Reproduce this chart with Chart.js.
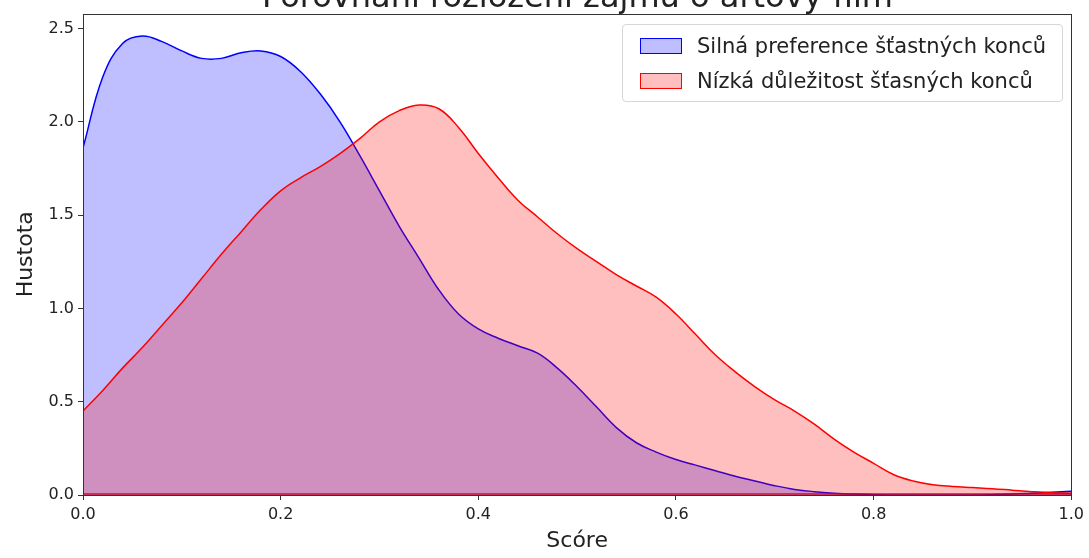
<!DOCTYPE html>
<html lang="cs">
<head>
  <meta charset="UTF-8" />
  <title>Porovnání rozložení zájmu o artový film</title>
  <script src="https://cdn.jsdelivr.net/npm/chart.js@4.4.0/dist/chart.umd.min.js"></script>
  <style>
    html, body {
      margin: 0;
      padding: 0;
      background: #ffffff;
      overflow: hidden;
    }
    #wrap {
      position: relative;
      width: 1089px;
      height: 558px;
      overflow: hidden;
      font-family: "DejaVu Sans", sans-serif;
      color: #222;
    }
    #chartTitle {
      position: absolute;
      left: 83px;
      width: 989px;
      top: -22px;
      text-align: center;
      font-size: 32px;
      line-height: 37px;
      white-space: nowrap;
    }
    #legend {
      position: absolute;
      left: 622px;
      top: 24px;
      width: 441px;
      height: 78px;
      box-sizing: border-box;
      border: 1px solid #d6d6d6;
      border-radius: 4px;
      background: rgba(255, 255, 255, 0.8);
      padding: 3px 0 0 17px;
    }
    .legend-item {
      display: flex;
      align-items: center;
      height: 35px;
      font-size: 21px;
      white-space: nowrap;
    }
    .legend-swatch {
      width: 40px;
      height: 14px;
      margin-right: 15px;
      border-width: 1.5px;
      border-style: solid;
    }
  </style>
</head>
<body>
  <div id="wrap">
    <canvas id="kdeChart" width="1089" height="558"></canvas>
    <div id="chartTitle">Porovnání rozložení zájmu o artový film</div>
    <div id="legend"></div>
  </div>

  <script>
    // ------------
    // DATA
    // ------------
    const scores = [
      0.00, 0.02, 0.04, 0.06, 0.08, 0.10, 0.12, 0.14, 0.16, 0.18,
      0.20, 0.22, 0.24, 0.26, 0.28, 0.30, 0.32, 0.34, 0.36, 0.38,
      0.40, 0.42, 0.44, 0.46, 0.48, 0.50, 0.52, 0.54, 0.56, 0.58,
      0.60, 0.62, 0.64, 0.66, 0.68, 0.70, 0.72, 0.74, 0.76, 0.78,
      0.80, 0.82, 0.84, 0.86, 0.88, 0.90, 0.92, 0.94, 0.96, 0.98,
      1.00
    ];

    // Silná preference šťastných konců
    const strongDensity = [
      1.86, 2.24, 2.42, 2.46, 2.43, 2.38, 2.34, 2.34, 2.37, 2.38,
      2.35, 2.27, 2.15, 2.00, 1.82, 1.63, 1.44, 1.27, 1.10, 0.97,
      0.89, 0.84, 0.80, 0.76, 0.68, 0.58, 0.47, 0.36, 0.28, 0.23,
      0.19, 0.16, 0.13, 0.10, 0.075, 0.05, 0.03, 0.018, 0.01, 0.005,
      0.002, 0.0, 0.0, 0.0, 0.0, 0.0, 0.002, 0.005, 0.01, 0.015,
      0.02
    ];

    // Nízká důležitost šťasných konců
    const lowDensity = [
      0.45, 0.56, 0.68, 0.79, 0.91, 1.03, 1.16, 1.29, 1.41, 1.53,
      1.63, 1.70, 1.76, 1.83, 1.91, 2.00, 2.06, 2.09, 2.07, 1.97,
      1.83, 1.70, 1.58, 1.49, 1.40, 1.32, 1.25, 1.18, 1.12, 1.06,
      0.97, 0.86, 0.75, 0.66, 0.58, 0.51, 0.45, 0.38, 0.30, 0.23,
      0.17, 0.11, 0.075, 0.055, 0.046, 0.040, 0.034, 0.026, 0.018, 0.012,
      0.01
    ];

    const seriesLabels = [
      "Silná preference šťastných konců",
      "Nízká důležitost šťasných konců"
    ];
    const xTicks = [0.0, 0.2, 0.4, 0.6, 0.8, 1.0];
    const yTicks = [0.0, 0.5, 1.0, 1.5, 2.0, 2.5];

    const FONT = "'DejaVu Sans', sans-serif";
    const TEXT = "#222222";

    // -------------------------------
    // PLUGINS
    // -------------------------------
    // matplotlib-like frame around the plot + baseline of fill edges
    const framePlugin = {
      id: "frame",
      afterDatasetsDraw(chart) {
        const { ctx, chartArea, scales } = chart;
        const y0 = scales.y.getPixelForValue(0);
        ctx.save();
        ctx.lineWidth = 1.5;
        ctx.strokeStyle = "rgba(200,0,30,0.9)";
        ctx.beginPath();
        ctx.moveTo(chartArea.left, y0 - 1);
        ctx.lineTo(chartArea.right, y0 - 1);
        ctx.stroke();
        ctx.lineWidth = 1;
        ctx.strokeStyle = "#333333";
        ctx.strokeRect(
          Math.round(chartArea.left) + 0.5,
          Math.round(chartArea.top) + 0.5,
          Math.round(chartArea.right - chartArea.left),
          Math.round(chartArea.bottom - chartArea.top)
        );
        ctx.restore();
      },
    };

    // -------------------------------
    // CHART
    // -------------------------------
    function toPoints(values) {
      return scores.map((s, i) => ({ x: s, y: values[i] }));
    }

    const ctx = document.getElementById("kdeChart").getContext("2d");
    const chart = new Chart(ctx, {
      type: "line",
      data: {
        datasets: [
          {
            label: seriesLabels[0],
            data: toPoints(strongDensity),
            borderColor: "rgba(0, 0, 255, 1)",
            backgroundColor: "rgba(0, 0, 255, 0.25)",
            borderWidth: 1.5,
            fill: "origin",
            pointRadius: 0,
            tension: 0.4,
            order: 1,
          },
          {
            label: seriesLabels[1],
            data: toPoints(lowDensity),
            borderColor: "rgba(255, 0, 0, 1)",
            backgroundColor: "rgba(255, 0, 0, 0.25)",
            borderWidth: 1.5,
            fill: "origin",
            pointRadius: 0,
            tension: 0.4,
            order: 0,
          },
        ],
      },
      options: {
        responsive: false,
        animation: false,
        layout: {
          padding: { top: 13, right: 17, left: 0, bottom: 0 },
        },
        plugins: {
          legend: { display: false },
          title: { display: false },
          tooltip: { enabled: false },
        },
        scales: {
          x: {
            type: "linear",
            min: 0,
            max: 1,
            afterBuildTicks(scale) {
              scale.ticks = xTicks.map((v) => ({ value: v }));
            },
            afterFit(scale) {
              scale.height = 63;
            },
            grid: {
              drawOnChartArea: false,
              drawTicks: true,
              tickLength: 5,
              color: "#333333",
            },
            border: { display: false },
            ticks: {
              color: TEXT,
              padding: 5,
              font: { family: FONT, size: 16 },
              maxRotation: 0,
              callback: (v) => Number(v).toFixed(1),
            },
            title: {
              display: true,
              text: "Scóre",
              color: TEXT,
              font: { family: FONT, size: 22 },
            },
          },
          y: {
            min: 0,
            max: 2.58,
            afterBuildTicks(scale) {
              scale.ticks = yTicks.map((v) => ({ value: v }));
            },
            afterFit(scale) {
              scale.width = 83;
            },
            grid: {
              drawOnChartArea: false,
              drawTicks: true,
              tickLength: 5,
              color: "#333333",
            },
            border: { display: false },
            ticks: {
              color: TEXT,
              padding: 4,
              font: { family: FONT, size: 16 },
              callback: (v) => Number(v).toFixed(1),
            },
            title: {
              display: true,
              text: "Hustota",
              color: TEXT,
              font: { family: FONT, size: 22, lineHeight: 2.0 },
            },
          },
        },
      },
      plugins: [framePlugin],
    });

    // -------------------------------
    // LEGEND (HTML, from datasets)
    // -------------------------------
    function buildLegend() {
      const box = document.getElementById("legend");
      box.innerHTML = "";
      chart.data.datasets.forEach((ds) => {
        const row = document.createElement("div");
        row.className = "legend-item";
        const sw = document.createElement("span");
        sw.className = "legend-swatch";
        sw.style.background = ds.backgroundColor;
        sw.style.borderColor = ds.borderColor;
        const label = document.createElement("span");
        label.textContent = ds.label;
        row.appendChild(sw);
        row.appendChild(label);
        box.appendChild(row);
      });
    }
    buildLegend();
  </script>
</body>
</html>
